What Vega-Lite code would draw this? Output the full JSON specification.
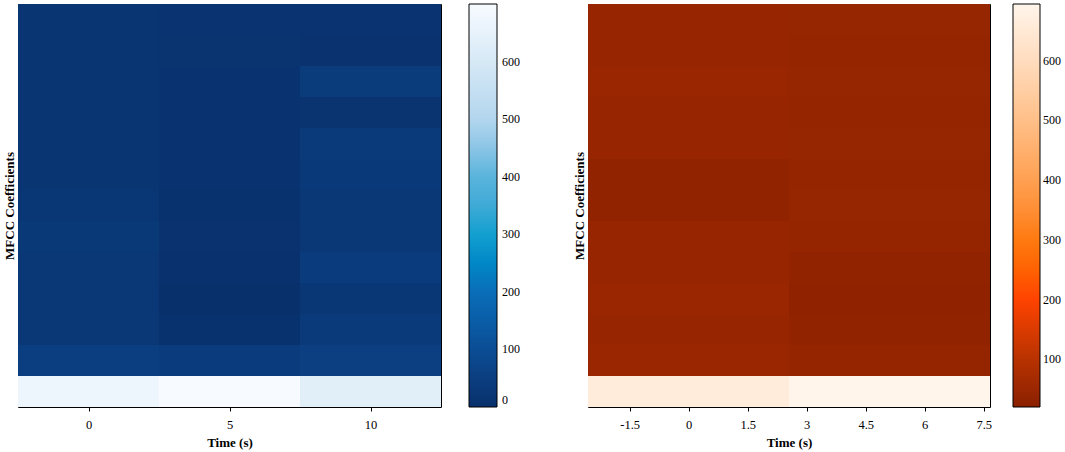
{
  "$schema": "https://vega.github.io/schema/vega-lite/v6.json",
  "padding": {"left": 2, "top": 3, "right": 0, "bottom": 0},
  "background": "white",
  "datasets": {
    "blue": [
      {"coef": 12, "t0": -2.5, "t1": 2.5, "value": 18},
      {"coef": 11, "t0": -2.5, "t1": 2.5, "value": 18},
      {"coef": 10, "t0": -2.5, "t1": 2.5, "value": 20},
      {"coef": 9, "t0": -2.5, "t1": 2.5, "value": 18},
      {"coef": 8, "t0": -2.5, "t1": 2.5, "value": 20},
      {"coef": 7, "t0": -2.5, "t1": 2.5, "value": 18},
      {"coef": 6, "t0": -2.5, "t1": 2.5, "value": 22},
      {"coef": 5, "t0": -2.5, "t1": 2.5, "value": 32},
      {"coef": 4, "t0": -2.5, "t1": 2.5, "value": 30},
      {"coef": 3, "t0": -2.5, "t1": 2.5, "value": 28},
      {"coef": 2, "t0": -2.5, "t1": 2.5, "value": 28},
      {"coef": 1, "t0": -2.5, "t1": 2.5, "value": 50},
      {"coef": 0, "t0": -2.5, "t1": 2.5, "value": 672},
      {"coef": 12, "t0": 2.5, "t1": 7.5, "value": 14},
      {"coef": 11, "t0": 2.5, "t1": 7.5, "value": 13},
      {"coef": 10, "t0": 2.5, "t1": 7.5, "value": 11},
      {"coef": 9, "t0": 2.5, "t1": 7.5, "value": 12},
      {"coef": 8, "t0": 2.5, "t1": 7.5, "value": 11},
      {"coef": 7, "t0": 2.5, "t1": 7.5, "value": 11},
      {"coef": 6, "t0": 2.5, "t1": 7.5, "value": 7},
      {"coef": 5, "t0": 2.5, "t1": 7.5, "value": 9},
      {"coef": 4, "t0": 2.5, "t1": 7.5, "value": 5},
      {"coef": 3, "t0": 2.5, "t1": 7.5, "value": 2},
      {"coef": 2, "t0": 2.5, "t1": 7.5, "value": 7},
      {"coef": 1, "t0": 2.5, "t1": 7.5, "value": 44},
      {"coef": 0, "t0": 2.5, "t1": 7.5, "value": 700},
      {"coef": 12, "t0": 7.5, "t1": 12.5, "value": 15},
      {"coef": 11, "t0": 7.5, "t1": 12.5, "value": 9},
      {"coef": 10, "t0": 7.5, "t1": 12.5, "value": 38},
      {"coef": 9, "t0": 7.5, "t1": 12.5, "value": 13},
      {"coef": 8, "t0": 7.5, "t1": 12.5, "value": 36},
      {"coef": 7, "t0": 7.5, "t1": 12.5, "value": 33},
      {"coef": 6, "t0": 7.5, "t1": 12.5, "value": 28},
      {"coef": 5, "t0": 7.5, "t1": 12.5, "value": 28},
      {"coef": 4, "t0": 7.5, "t1": 12.5, "value": 40},
      {"coef": 3, "t0": 7.5, "t1": 12.5, "value": 23},
      {"coef": 2, "t0": 7.5, "t1": 12.5, "value": 36},
      {"coef": 1, "t0": 7.5, "t1": 12.5, "value": 54},
      {"coef": 0, "t0": 7.5, "t1": 12.5, "value": 632}
    ],
    "orange": [
      {"coef": 12, "t0": -2.56, "t1": 2.55, "value": 45},
      {"coef": 11, "t0": -2.56, "t1": 2.55, "value": 44},
      {"coef": 10, "t0": -2.56, "t1": 2.55, "value": 46},
      {"coef": 9, "t0": -2.56, "t1": 2.55, "value": 45},
      {"coef": 8, "t0": -2.56, "t1": 2.55, "value": 44},
      {"coef": 7, "t0": -2.56, "t1": 2.55, "value": 32},
      {"coef": 6, "t0": -2.56, "t1": 2.55, "value": 34},
      {"coef": 5, "t0": -2.56, "t1": 2.55, "value": 44},
      {"coef": 4, "t0": -2.56, "t1": 2.55, "value": 45},
      {"coef": 3, "t0": -2.56, "t1": 2.55, "value": 46},
      {"coef": 2, "t0": -2.56, "t1": 2.55, "value": 44},
      {"coef": 1, "t0": -2.56, "t1": 2.55, "value": 48},
      {"coef": 0, "t0": -2.56, "t1": 2.55, "value": 662},
      {"coef": 12, "t0": 2.55, "t1": 7.66, "value": 42},
      {"coef": 11, "t0": 2.55, "t1": 7.66, "value": 40},
      {"coef": 10, "t0": 2.55, "t1": 7.66, "value": 42},
      {"coef": 9, "t0": 2.55, "t1": 7.66, "value": 40},
      {"coef": 8, "t0": 2.55, "t1": 7.66, "value": 41},
      {"coef": 7, "t0": 2.55, "t1": 7.66, "value": 40},
      {"coef": 6, "t0": 2.55, "t1": 7.66, "value": 42},
      {"coef": 5, "t0": 2.55, "t1": 7.66, "value": 40},
      {"coef": 4, "t0": 2.55, "t1": 7.66, "value": 32},
      {"coef": 3, "t0": 2.55, "t1": 7.66, "value": 30},
      {"coef": 2, "t0": 2.55, "t1": 7.66, "value": 34},
      {"coef": 1, "t0": 2.55, "t1": 7.66, "value": 40},
      {"coef": 0, "t0": 2.55, "t1": 7.66, "value": 695}
    ]
  },
  "config": {
    "font": "Liberation Serif",
    "view": {"stroke": "black", "strokeWidth": 1},
    "axis": {
      "labelFont": "Liberation Serif",
      "titleFont": "Liberation Serif",
      "labelFontSize": 12.5,
      "titleFontSize": 13,
      "titleFontWeight": "bold",
      "labelColor": "black",
      "titleColor": "black",
      "tickColor": "black",
      "domainColor": "black",
      "grid": false
    },
    "legend": {
      "gradientVerticalMaxLength": 405,
      "labelFont": "Liberation Serif",
      "labelFontSize": 12,
      "labelColor": "black"
    }
  },
  "hconcat": [
    {
      "width": 423,
      "height": 403,
      "data": {"name": "blue"},
      "mark": {"type": "rect"},
      "encoding": {
        "x": {
          "field": "t0",
          "type": "quantitative",
          "scale": {"domain": [-2.5, 12.5], "nice": false, "zero": false},
          "axis": {"values": [0, 5, 10], "title": "Time (s)", "tickSize": 4, "labelPadding": 7, "titlePadding": 6, "domain": false}
        },
        "x2": {"field": "t1"},
        "y": {
          "field": "coef",
          "type": "ordinal",
          "sort": "descending",
          "scale": {"paddingInner": 0, "paddingOuter": 0},
          "axis": {"labels": false, "ticks": false, "domain": false, "title": "MFCC Coefficients", "titlePadding": 2}
        },
        "color": {
          "field": "value",
          "type": "quantitative",
          "scale": {
            "domain": [0, 100, 200, 300, 400, 500, 600, 700],
            "range": ["#08306b", "#0a4d95", "#0a6eb8", "#13a0d0", "#5ab4dc", "#b3d6ee", "#d6e9f6", "#f7fbff"]
          },
          "legend": {
            "title": null,
            "orient": "right",
            "offset": 28,
            "gradientLength": 403,
            "gradientThickness": 28,
            "gradientStrokeColor": "black",
            "gradientStrokeWidth": 1,
            "values": [0, 100, 200, 300, 400, 500, 600],
            "labelOverlap": false,
            "labelOffset": 5
          }
        }
      }
    },
    {
      "width": 402,
      "height": 403,
      "data": {"name": "orange"},
      "mark": {"type": "rect"},
      "encoding": {
        "x": {
          "field": "t0",
          "type": "quantitative",
          "scale": {"domain": [-2.56, 7.66], "nice": false, "zero": false},
          "axis": {
            "values": [-1.5, 0, 1.5, 3, 4.5, 6, 7.5],
            "labelExpr": "replace(format(datum.value, '.1~f'), '\u2212', '-')",
            "title": "Time (s)", "tickSize": 4, "labelPadding": 7, "titlePadding": 6, "domain": false
          }
        },
        "x2": {"field": "t1"},
        "y": {
          "field": "coef",
          "type": "ordinal",
          "sort": "descending",
          "scale": {"paddingInner": 0, "paddingOuter": 0},
          "axis": {"labels": false, "ticks": false, "domain": false, "title": "MFCC Coefficients", "titlePadding": 2}
        },
        "color": {
          "field": "value",
          "type": "quantitative",
          "scale": {
            "domain": [20, 100, 200, 300, 400, 500, 600, 695],
            "range": ["#8a2000", "#b83200", "#ff4300", "#ff7a10", "#ffa052", "#ffbf88", "#ffdcbe", "#fff5eb"]
          },
          "legend": {
            "title": null,
            "orient": "right",
            "offset": 23,
            "gradientLength": 403,
            "gradientThickness": 27,
            "gradientStrokeColor": "black",
            "gradientStrokeWidth": 1,
            "values": [100, 200, 300, 400, 500, 600],
            "labelOverlap": false,
            "labelOffset": 3
          }
        }
      }
    }
  ],
  "resolve": {"scale": {"color": "independent"}},
  "spacing": 51
}
